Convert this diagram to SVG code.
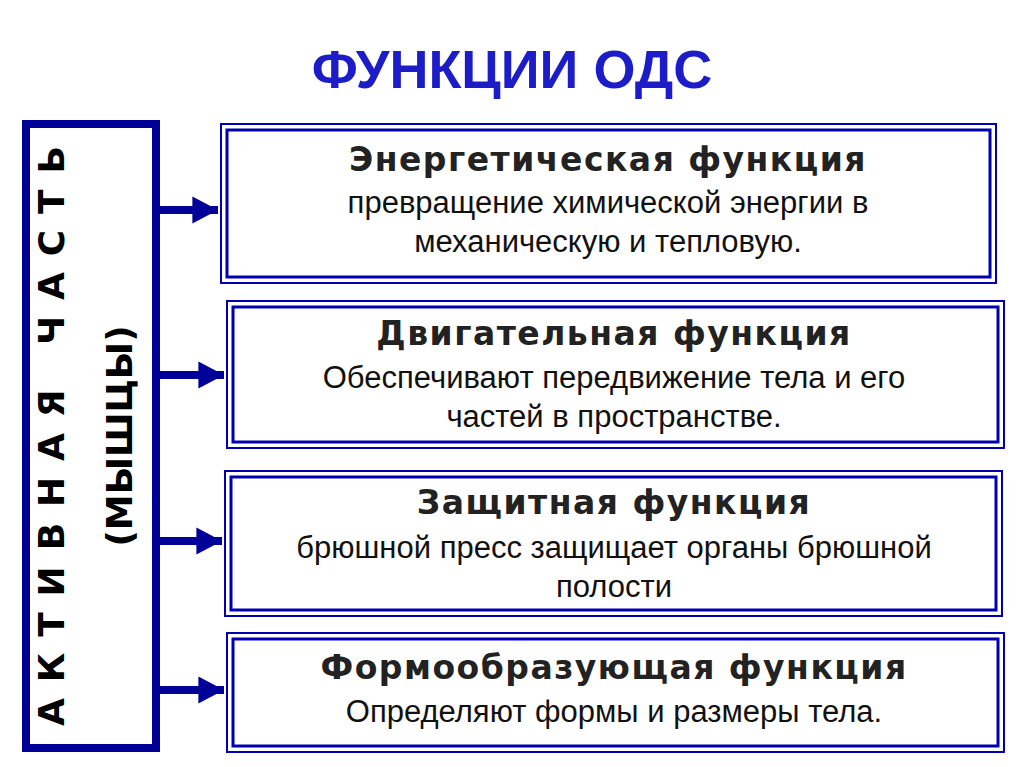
<svg xmlns="http://www.w3.org/2000/svg" width="1024" height="767" viewBox="0 0 1024 767">
<defs>
<style>
.b1{fill:#fff;stroke:#0000b0;stroke-width:2}
.b2{fill:none;stroke:#0000b0;stroke-width:3}
.h{font-family:"DejaVu Sans","Liberation Sans",sans-serif;font-weight:bold;font-size:33px;fill:#222;text-anchor:middle;letter-spacing:1.5px}
.t{font-family:"Liberation Sans",Arial,sans-serif;font-size:31px;fill:#111;text-anchor:middle}
.v{font-family:"DejaVu Sans","Liberation Sans",sans-serif;font-weight:bold;font-size:36px;fill:#000;text-anchor:middle}
.a{stroke:#000099;stroke-width:8;fill:none}
</style>
<marker id="ar" markerWidth="4" markerHeight="4" refX="3.2" refY="2" orient="auto" markerUnits="strokeWidth"><path d="M0,0.3 L3.2,2 L0,3.7 Z" fill="#000099"/></marker>
</defs>
<rect width="1024" height="767" fill="#fff"/>
<text x="512" y="88" font-family="Liberation Sans,Arial,sans-serif" font-weight="bold" font-size="54" fill="#1c1cc8" text-anchor="middle">ФУНКЦИИ ОДС</text>
<g id="left">
<rect x="26" y="124" width="130" height="624" fill="#fff" stroke="#000099" stroke-width="8"/>
<text class="v" transform="translate(64,436) rotate(-90)" textLength="580" lengthAdjust="spacing">АКТИВНАЯ ЧАСТЬ</text>
<text class="v" transform="translate(132,436) rotate(-90)">(МЫШЦЫ)</text>
</g>
<g id="connectors">
<line class="a" x1="160" y1="210" x2="218" y2="210" marker-end="url(#ar)"/>
<line class="a" x1="160" y1="375" x2="224" y2="375" marker-end="url(#ar)"/>
<line class="a" x1="160" y1="541" x2="222" y2="541" marker-end="url(#ar)"/>
<line class="a" x1="160" y1="690" x2="224" y2="690" marker-end="url(#ar)"/>
</g>
<g id="n1">
<rect class="b1" x="221" y="124" width="775" height="159"/><rect class="b2" x="227" y="130" width="763" height="147"/>
<text class="h" x="608" y="171">Энергетическая функция</text>
<text class="t" x="608" y="213">превращение химической энергии в</text>
<text class="t" x="608" y="252">механическую и тепловую.</text>
</g>
<g id="n2">
<rect class="b1" x="227" y="301" width="777" height="147"/><rect class="b2" x="233" y="307" width="765" height="135"/>
<text class="h" x="614" y="345">Двигательная функция</text>
<text class="t" x="614" y="388">Обеспечивают передвижение тела и его</text>
<text class="t" x="614" y="427">частей в пространстве.</text>
</g>
<g id="n3">
<rect class="b1" x="225" y="471" width="777" height="145"/><rect class="b2" x="231" y="477" width="765" height="133"/>
<text class="h" x="614" y="514">Защитная функция</text>
<text class="t" x="614" y="558">брюшной пресс защищает органы брюшной</text>
<text class="t" x="614" y="597">полости</text>
</g>
<g id="n4">
<rect class="b1" x="227" y="633" width="777" height="119"/><rect class="b2" x="233" y="639" width="765" height="107"/>
<text class="h" x="614" y="679">Формообразующая функция</text>
<text class="t" x="614" y="722">Определяют формы и размеры тела.</text>
</g>
</svg>
